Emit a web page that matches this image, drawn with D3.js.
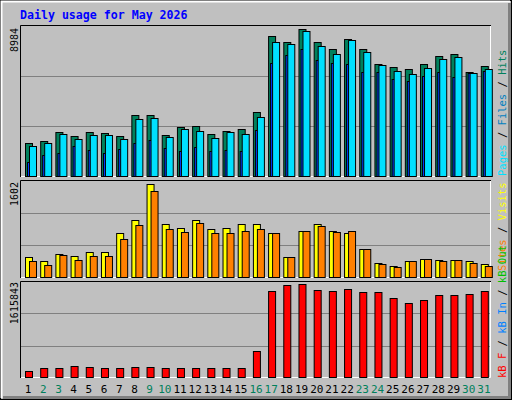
<!DOCTYPE html>
<html><head><meta charset="utf-8">
<script src="https://cdn.jsdelivr.net/npm/d3@7"></script>
<style>body{margin:0;background:#fff}svg{display:block}text{font-family:"DejaVu Sans Mono",monospace}</style>
</head><body><svg id="c" width="512" height="400"></svg>
<script>
const days = d3.range(1, 32);
const weekend = [2,3,9,10,16,17,23,24,30,31];
const hits  = [2077,2200,2750,2505,2750,2688,2505,3788,3788,2566,3055,3116,2627,2811,2933,3972,8554,8187,8984,8187,7760,8371,7760,6843,6660,6538,6843,7332,7454,6354,6721];
const files = [1894,2077,2627,2322,2566,2566,2322,3544,3605,2444,2933,2811,2383,2750,2627,3666,8187,8065,8860,7943,7454,8310,7576,6782,6416,6232,6599,7149,7271,6293,6538];
const pages = [917,1344,1466,1894,1650,1466,1711,2077,2261,1772,1589,1833,1589,1650,1589,2872,6904,7393,7760,7088,6904,6843,6354,6354,5927,5805,6110,6354,6049,6293,6416];
const visits= [363,289,410,375,444,444,772,980,1602,928,859,980,842,859,928,928,772,358,807,928,807,772,496,254,202,289,323,306,306,289,237];
const sites = [282,230,385,299,368,368,662,904,1491,835,783,938,766,766,800,835,766,351,800,886,783,800,489,247,195,282,316,282,299,264,213];
const kbytes= [117673,170361,170361,205487,187924,170361,170361,187924,187924,170361,170361,170361,170361,170361,170361,468932,1487588,1592964,1615843,1505151,1487588,1522714,1470025,1470025,1382210,1294393,1347082,1434897,1434897,1452460,1487588];
const maxLabels = ["8984","1602","1615843"];
const title = "Daily usage for May 2026";

const svg = d3.select("#c");
svg.append("rect").attr("width",512).attr("height",400).attr("fill","#c0c0c0");
// frame
svg.append("rect").attr("x",0.5).attr("y",0.5).attr("width",511).attr("height",399).attr("fill","none").attr("stroke","#000");
svg.append("path").attr("d","M1.5,398V1.5H510").attr("stroke","#fff").attr("stroke-width",2).attr("fill","none");
svg.append("path").attr("d","M509.5,3V397.5H3").attr("stroke","#808080").attr("stroke-width",3).attr("fill","none");

svg.append("text").attr("x",20).attr("y",19).attr("fill","#0000ff").attr("font-weight","bold").attr("font-size",11.6).text(title);

const x = d3.scaleBand().domain(days).range([20,491]).paddingInner(0).paddingOuter(0);
const X0 = d => x(d) + 5;

const panels = [
  {top:25, bottom:177, maxTop:29},
  {top:180, bottom:278, maxTop:184},
  {top:281, bottom:378, maxTop:284}
];
function panel(p, maxVal){
  const y = d3.scaleLinear().domain([0, maxVal*(p.bottom-p.top)/(p.bottom-p.maxTop)]).range([p.bottom, p.top]);
  const dm = y.domain()[1];
  [dm/3, 2*dm/3].forEach(v=>{
    svg.append("line").attr("x1",21).attr("x2",490).attr("y1",Math.round(y(v))+0.5).attr("y2",Math.round(y(v))+0.5).attr("stroke","#808080");
  });
  svg.append("path").attr("d",`M${20.5},${p.bottom}V${p.top+0.5}H491`).attr("stroke","#000").attr("fill","none");
  svg.append("path").attr("d",`M${490.5},${p.top+1}V${p.bottom-0.5}H21`).attr("stroke","#fff").attr("fill","none");
  return y;
}
function bars(y, data, dx, w, fill, stroke){
  svg.append("g").selectAll("rect").data(data).join("rect")
    .attr("x",(d,i)=>X0(days[i])+dx+0.5).attr("width",w)
    .attr("y",d=>Math.round(y(d))+0.5).attr("height",d=>p_b(y)-Math.round(y(d))-1)
    .attr("fill",fill).attr("stroke",stroke||"#000");
}
const p_b = y => y.range()[0];

const y1 = panel(panels[0], 8984);
bars(y1, hits, 0, 7, "#00805c");
bars(y1, pages, 2, 6, "#0040ff");
bars(y1, files, 4, 7, "#00e0ff");
const y2 = panel(panels[1], 1602);
bars(y2, visits, 0, 7, "#ffff00");
bars(y2, sites, 4, 7, "#ff8000");
const y3 = panel(panels[2], 1615843);
bars(y3, kbytes, 0, 7, "#ff0000");

// max labels
[[28,maxLabels[0]],[182,maxLabels[1]],[282,maxLabels[2]]].forEach(([yy,t])=>{
  svg.append("text").attr("transform",`translate(18,${yy}) rotate(-90)`).attr("text-anchor","end").attr("font-size",10).attr("fill","#000").text(t);
});

// right labels
function rlabel(yBottom, parts){
  const t = svg.append("text").attr("transform",`translate(506,${yBottom}) rotate(-90)`).attr("font-size",10.5);
  parts.forEach(([s,c])=>t.append("tspan").attr("fill",c).text(s));
}
rlabel(176, [["Pages","#00e0ff"],[" / ","#000"],["Files","#0080c0"],[" / ","#000"],["Hits","#00805c"]]);
rlabel(271, [["Sites","#ff8000"],[" / ","#000"],["Visits","#ffff00"]]);
rlabel(378, [["kB F","#ff0000"],[" / ","#000"],["kB In","#0080ff"],[" / ","#000"],["kB Out","#00c000"]]);

// day labels
svg.append("g").selectAll("text").data(days).join("text")
  .attr("x",d=>x(d)+x.bandwidth()/2+0.5).attr("y",393).attr("text-anchor","middle").attr("font-size",11)
  .attr("fill",d=>weekend.includes(d)?"#00805c":"#000").text(d=>d);
</script></body></html>
